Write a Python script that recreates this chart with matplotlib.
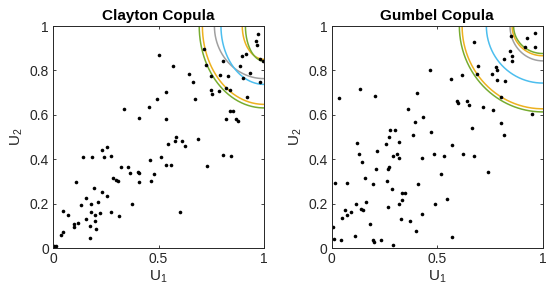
import numpy as np
import matplotlib.pyplot as plt

plt.rcParams['font.family'] = ['Liberation Sans', 'DejaVu Sans']
plt.rcParams['mathtext.default'] = 'regular'

# sample points
clayton_u1 = [0.003, 0.014, 0.036, 0.046, 0.046, 0.071, 0.099, 0.099, 0.117, 0.110,
              0.134, 0.142, 0.155, 0.156, 0.176, 0.174, 0.179, 0.179, 0.186, 0.196,
              0.199, 0.201, 0.205, 0.213, 0.222, 0.231, 0.234, 0.243, 0.254, 0.258,
              0.273, 0.274, 0.284, 0.298, 0.310, 0.315, 0.321, 0.338, 0.354, 0.363,
              0.373, 0.404, 0.409, 0.408, 0.407, 0.454, 0.460, 0.466, 0.481, 0.492,
              0.502, 0.510, 0.535, 0.535, 0.535, 0.543, 0.557, 0.568, 0.580, 0.583,
              0.604, 0.612, 0.625, 0.645, 0.665, 0.672, 0.687, 0.715, 0.725, 0.730,
              0.748, 0.749, 0.755, 0.786, 0.793, 0.807, 0.807, 0.819, 0.820, 0.829,
              0.839, 0.837, 0.844, 0.853, 0.868, 0.877, 0.884, 0.895, 0.900, 0.917,
              0.920, 0.936, 0.960, 0.968, 0.973, 0.982, 0.982, 0.997]
clayton_u2 = [0.011, 0.011, 0.059, 0.071, 0.168, 0.147, 0.107, 0.095, 0.114, 0.297,
              0.195, 0.411, 0.131, 0.227, 0.100, 0.046, 0.161, 0.198, 0.410, 0.269,
              0.122, 0.150, 0.086, 0.205, 0.159, 0.441, 0.251, 0.411, 0.234, 0.454,
              0.413, 0.162, 0.314, 0.308, 0.301, 0.145, 0.365, 0.624, 0.365, 0.336,
              0.198, 0.343, 0.338, 0.299, 0.585, 0.637, 0.396, 0.303, 0.334, 0.673,
              0.869, 0.409, 0.703, 0.581, 0.372, 0.470, 0.374, 0.822, 0.484, 0.498,
              0.160, 0.483, 0.459, 0.782, 0.750, 0.671, 0.490, 0.897, 0.826, 0.371,
              0.773, 0.710, 0.692, 0.707, 0.778, 0.844, 0.420, 0.580, 0.721, 0.777,
              0.711, 0.618, 0.415, 0.615, 0.581, 0.572, 0.821, 0.865, 0.764, 0.874,
              0.680, 0.787, 0.931, 0.914, 0.962, 0.748, 0.853, 0.842]

gumbel_u1 = [0.005, 0.014, 0.012, 0.036, 0.044, 0.050, 0.065, 0.073, 0.073, 0.091,
             0.112, 0.115, 0.118, 0.129, 0.136, 0.140, 0.148, 0.144, 0.158, 0.163,
             0.183, 0.196, 0.194, 0.199, 0.205, 0.208, 0.213, 0.235, 0.256, 0.264,
             0.267, 0.267, 0.271, 0.273, 0.275, 0.286, 0.292, 0.292, 0.299, 0.311,
             0.318, 0.319, 0.319, 0.332, 0.330, 0.335, 0.346, 0.362, 0.372, 0.387,
             0.395, 0.398, 0.406, 0.410, 0.429, 0.429, 0.434, 0.464, 0.472, 0.483,
             0.491, 0.519, 0.534, 0.546, 0.565, 0.571, 0.569, 0.616, 0.622, 0.595,
             0.597, 0.640, 0.652, 0.673, 0.665, 0.676, 0.693, 0.689, 0.716, 0.742,
             0.760, 0.766, 0.780, 0.783, 0.785, 0.804, 0.802, 0.815, 0.818, 0.823,
             0.847, 0.851, 0.853, 0.853, 0.918, 0.927, 0.949, 0.962, 0.965]
gumbel_u2 = [0.093, 0.293, 0.042, 0.676, 0.037, 0.137, 0.173, 0.149, 0.293, 0.161,
             0.054, 0.198, 0.474, 0.425, 0.715, 0.176, 0.171, 0.389, 0.315, 0.207,
             0.107, 0.290, 0.037, 0.026, 0.685, 0.357, 0.438, 0.035, 0.468, 0.302,
             0.183, 0.354, 0.364, 0.501, 0.532, 0.267, 0.413, 0.012, 0.532, 0.422,
             0.197, 0.476, 0.404, 0.215, 0.131, 0.248, 0.246, 0.628, 0.120, 0.510,
             0.569, 0.075, 0.700, 0.290, 0.152, 0.407, 0.589, 0.802, 0.523, 0.422,
             0.200, 0.332, 0.414, 0.219, 0.760, 0.462, 0.051, 0.778, 0.423, 0.663,
             0.655, 0.664, 0.643, 0.416, 0.542, 0.929, 0.820, 0.784, 0.634, 0.342,
             0.785, 0.620, 0.817, 0.800, 0.758, 0.679, 0.563, 0.508, 0.850, 0.754,
             0.886, 0.953, 0.864, 0.844, 0.904, 0.946, 0.604, 0.905, 0.968]

# level curves: where each one meets the top edge (u1) and the right edge (u2)
GREEN, ORANGE, GREY, CYAN = '#77AC30', '#EDB120', '#A0A0A0', '#4DBEEE'
curve_colors = [GREEN, ORANGE, GREY, CYAN, ORANGE, GREEN]
clayton_top = [0.693, 0.708, 0.765, 0.796, 0.897, 0.912]
clayton_right = [0.631, 0.647, 0.763, 0.737, 0.850, 0.842]
gumbel_top = [0.605, 0.618, 0.845, 0.733, 0.855, 0.862]
gumbel_right = [0.613, 0.627, 0.843, 0.743, 0.866, 0.876]


def draw_panel(ax, u1, u2, tops, rights, title):
    t = np.linspace(0, np.pi / 2, 200)
    for a, b, c in zip(tops, rights, curve_colors):
        ax.plot(1 - (1 - a) * np.cos(t), 1 - (1 - b) * np.sin(t), color=c, lw=1.1)
    ax.plot(u1, u2, 'o', color='k', ms=2.6, mec='none')
    ax.set_xlim(0, 1)
    ax.set_ylim(0, 1)
    ax.set_xticks([0, 0.5, 1])
    ax.set_xticklabels(['0', '0.5', '1'])
    ax.set_yticks([0, 0.2, 0.4, 0.6, 0.8, 1])
    ax.set_yticklabels(['0', '0.2', '0.4', '0.6', '0.8', '1'])
    ax.tick_params(direction='in', length=2.5, width=0.6, labelsize=10,
                   colors='#262626', top=True, right=True, pad=3)
    for s in ax.spines.values():
        s.set_linewidth(0.7)
        s.set_color('#262626')
    ax.set_xlabel('U$_1$', fontsize=11, color='#262626', labelpad=2)
    ax.set_ylabel('U$_2$', fontsize=11, color='#262626', labelpad=3)
    ax.set_title(title, fontsize=11, fontweight='bold', pad=4)


fig = plt.figure(figsize=(5.5, 2.97), dpi=100)
ax1 = fig.add_axes([53 / 550, 1 - 248 / 297, 211 / 550, 222 / 297])
ax2 = fig.add_axes([331.7 / 550, 1 - 248 / 297, 211 / 550, 222 / 297])
draw_panel(ax1, clayton_u1, clayton_u2, clayton_top, clayton_right, 'Clayton Copula')
draw_panel(ax2, gumbel_u1, gumbel_u2, gumbel_top, gumbel_right, 'Gumbel Copula')
fig.savefig('out.png', dpi=100)
